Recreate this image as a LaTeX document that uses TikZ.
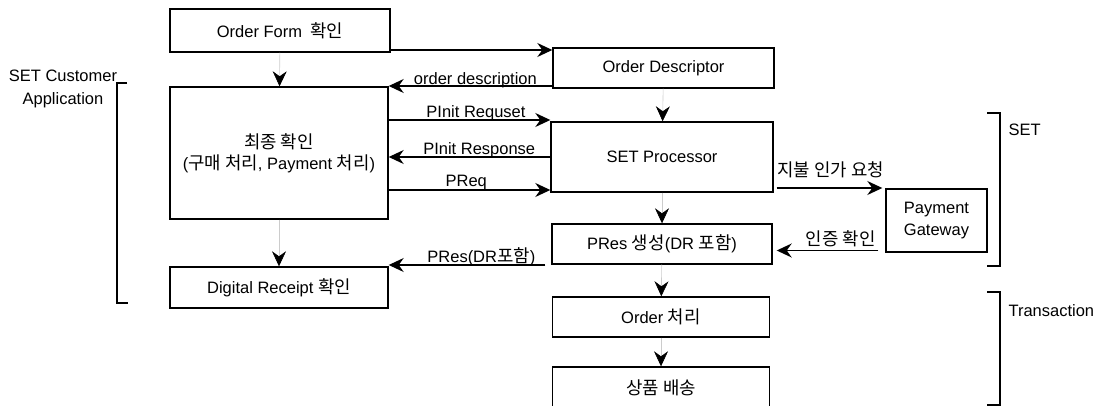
\documentclass[tikz,border=0pt]{standalone}
\usepackage{fontspec}
\setmainfont{Liberation Sans}
\newfontfamily\kofont[Scale=1.08]{Noto Sans CJK KR}
\usetikzlibrary{arrows.meta}
\newcommand\ko[1]{{\kofont #1}}

\begin{document}
\begin{tikzpicture}[x=1pt,y=-1pt,
  every node/.style={font=\fontsize{16.5}{21}\selectfont},
  box/.style={draw, line width=1.4pt, inner sep=0pt, align=center},
  flow/.style={line width=1.5pt, -{Stealth[length=15pt,width=14pt,inset=5pt]}},
  faint/.style={line width=0.6pt, draw=black!20, -{Stealth[length=15pt,width=14pt,inset=5pt,black]}},
  brace/.style={line width=1.2pt},
  lbl/.style={inner sep=0pt}
]
\useasboundingbox (0,0) rectangle (1105,406);

% customer side
\node[box, minimum width=220pt, minimum height=43pt] (ordform) at (280,30.5) {Order Form\hspace{0.5em}\ko{확인}};
\node[box, minimum width=218pt, minimum height=132pt] (final) at (279,153) {\ko{최종 확인}\\(\ko{구매 처리}, Payment \ko{처리})};
\node[box, minimum width=218pt, minimum height=41pt] (receipt) at (279,287.5) {Digital Receipt \ko{확인}};

% merchant side
\node[box, minimum width=221pt, minimum height=40pt] (desc) at (663.5,68) {Order Descriptor};
\node[box, minimum width=222pt, minimum height=70pt] (proc) at (662,157) {SET Processor};
\node[box, minimum width=220pt, minimum height=40pt] (pres) at (662,244) {PRes \ko{생성}(DR \ko{포함})};
\node[box, minimum width=217pt, minimum height=40pt] (ordp) at (661,317) {Order \ko{처리}};
\node[box, minimum width=217pt, minimum height=41pt] (ship) at (661,387.5) {\ko{상품 배송}};

% gateway
\node[box, minimum width=101pt, minimum height=63pt, font=\fontsize{16.5}{22}\selectfont] (gate) at (936.5,220.5) {Payment\\Gateway};

% group labels and brackets
\node[align=center, font=\fontsize{16.5}{23}\selectfont] (custlbl) at (63,88.5) {SET Customer\\Application};
\draw[brace] (127,83) -- (117,83) -- (117,303) -- (128,303);
\node[anchor=west] (setlbl) at (1005,130) {SET};
\draw[brace] (987,113) -- (1000,113) -- (1000,266) -- (987,266);
\node[anchor=west] (trlbl) at (1005,311) {Transaction};
\draw[brace] (987,292) -- (1000,292) -- (1000,405) -- (987,405);

% vertical flow
\draw[faint] (ordform) -- (final);
\draw[faint] (final) -- (receipt);
\draw[faint] (desc) -- (proc);
\draw[faint] (proc) -- (pres);
\draw[faint] (pres) -- (ordp);
\draw[faint] (ordp) -- (ship);

% message exchange
\path ([yshift=-19.5pt]ordform.east) coordinate (m1)
      ([yshift=-18pt]desc.west) coordinate (m2)
      ([yshift=37pt]proc.west) coordinate (m3)
      (proc.west) coordinate (m4)
      ([yshift=-33pt]proc.west) coordinate (m5)
      ([yshift=-31pt]proc.east) coordinate (m6)
      ([yshift=-30pt]gate.west) coordinate (m7)
      ([yshift=-21pt]pres.west) coordinate (m8);

\draw[flow] (m1) -- (m1 -| desc.west);
\draw[flow] (m2) -- node[lbl, pos=0.47, anchor=base, yshift=1pt] {order description} (m2 -| final.east);
\draw[flow] (m3 -| final.east) -- node[lbl, pos=0.54, anchor=base, yshift=2pt] {PInit Requset} (m3);
\draw[flow] (m4) -- node[lbl, pos=0.44, anchor=base, yshift=2pt] {PInit Response} (m4 -| final.east);
\draw[flow] (m5 -| final.east) -- node[lbl, pos=0.48, anchor=base, yshift=3pt] {PReq} (m5);
\draw[flow, shorten <=3pt, shorten >=3pt] (m6) -- node[lbl, pos=0, anchor=base west, xshift=3pt, yshift=11pt] {\ko{지불 인가 요청}} (m6 -| gate.west);
\draw[flow, shorten <=7pt, shorten >=4pt] (m7) -- node[lbl, pos=0, anchor=base east, xshift=-9pt, yshift=5pt] {\ko{인증 확인}} (m7 -| pres.east);
\draw[flow, shorten <=6pt] (m8) -- node[lbl, pos=0.43, anchor=base, yshift=3pt] {PRes(DR\ko{포함})} (m8 -| receipt.east);
\end{tikzpicture}
\end{document}
